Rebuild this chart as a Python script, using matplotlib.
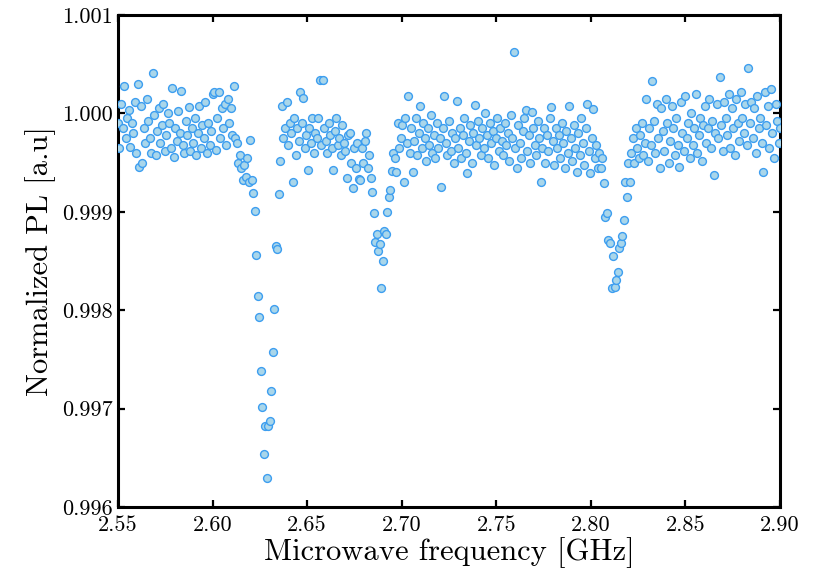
import numpy as np
import matplotlib
matplotlib.use("Agg")
import matplotlib.pyplot as plt

plt.rcParams["font.family"] = "cmr10"
plt.rcParams["mathtext.fontset"] = "cm"
plt.rcParams["axes.unicode_minus"] = False

# ODMR sweep: microwave frequency range (GHz)
freq_start = 2.55
freq_stop = 2.90

# Normalized photoluminescence along the sweep
pl = [
    # 2.550 - 2.611
    0.99990, 0.99965, 1.00010, 0.99985, 1.00028, 0.99975, 0.99995, 1.00003, 0.99966, 0.99990,
    0.99980, 1.00012, 0.99960, 1.00030, 0.99946, 1.00008, 0.99950, 0.99985, 0.99970, 1.00015,
    0.99992, 0.99975, 0.99960, 1.00041, 0.99998, 0.99958, 0.99982, 1.00005, 0.99970, 0.99988,
    1.00010, 0.99962, 0.99978, 1.00000, 0.99990, 0.99965, 1.00026, 0.99956, 0.99985, 0.99972,
    1.00002, 0.99980, 1.00023, 0.99968, 0.99960, 0.99992, 0.99978, 1.00006, 0.99962, 0.99985,
    0.99970, 0.99995, 0.99958, 0.99980, 1.00008, 0.99965, 0.99988, 0.99975, 1.00012, 0.99960,
    0.99990, 0.99968, 0.99982, 1.00020, 1.00022, 0.99963, 0.99995, 1.00022, 0.99975, 1.00005,
    0.99985, 1.00010, 0.99968, 1.00015, 0.99990, 1.00005, 0.99978, 1.00028,
    # shoulder of first resonance
    0.99975, 0.99970, 0.99950, 0.99958, 0.99945, 0.99932, 0.99948, 0.99935, 0.99955, 0.99930,
    0.99973, 0.99932,
    # first resonance
    0.99919, 0.99901, 0.99856, 0.99814, 0.99793, 0.99738, 0.99702, 0.99654, 0.99682, 0.99629,
    0.99682, 0.99687, 0.99718, 0.99758, 0.99801, 0.99865, 0.99862,
    # between first and second resonance
    0.99918, 0.99952, 1.00007, 0.99975, 0.99985, 1.00012, 0.99968, 0.99990, 0.99980, 0.99930,
    0.99995, 0.99958, 0.99985, 0.99972, 1.00022, 0.99990, 1.00016, 0.99965, 0.99978, 0.99942,
    0.99985, 0.99970, 0.99995, 0.99960, 0.99980, 0.99975, 0.99995, 1.00034, 0.99968, 1.00034,
    0.99985, 0.99972, 0.99960, 0.99990, 0.99978, 0.99965, 0.99942, 0.99982, 0.99995, 0.99968,
    0.99975, 0.99958, 0.99988, 0.99970, 0.99962, 0.99934, 0.99978, 0.99980, 0.99950, 0.99924,
    0.99965, 0.99945, 0.99970, 0.99933,
    # second resonance
    0.99932, 0.99965, 0.99950, 0.99972, 0.99980, 0.99945, 0.99958, 0.99934, 0.99920, 0.99899,
    0.99869, 0.99877, 0.99860, 0.99867, 0.99823, 0.99850, 0.99880, 0.99877, 0.99900, 0.99915,
    0.99922, 0.99941, 0.99960,
    # between second and third resonance
    0.99955, 0.99940, 0.99990, 0.99965, 0.99975, 0.99988, 0.99930, 0.99995, 0.99970, 1.00018,
    0.99960, 0.99985, 0.99940, 0.99972, 0.99995, 0.99958, 0.99980, 1.00008, 0.99965, 0.99990,
    0.99975, 0.99952, 0.99985, 0.99968, 0.99998, 0.99960, 0.99978, 0.99955, 0.99990, 0.99965,
    0.99975, 0.99925, 0.99985, 1.00018, 0.99970, 0.99958, 0.99992, 0.99962, 0.99980, 0.99950,
    0.99975, 1.00013, 0.99965, 0.99985, 0.99955, 0.99978, 0.99995, 0.99960, 0.99939, 0.99972,
    0.99988, 0.99950, 0.99980, 1.00009, 0.99968, 0.99992, 0.99975, 0.99958, 0.99985, 0.99965,
    1.00000, 0.99978, 0.99955, 0.99990, 0.99970, 0.99982, 0.99948, 0.99975, 0.99995, 0.99962,
    0.99985, 0.99972, 0.99958, 0.99990, 0.99968, 0.99980, 0.99952, 0.99998, 0.99975, 1.00062,
    0.99965, 0.99944, 0.99988, 0.99970, 0.99955, 0.99982, 0.99995, 1.00003, 0.99962, 0.99978,
    0.99950, 1.00001, 0.99985, 0.99968, 0.99958, 0.99992, 0.99975, 0.99930, 0.99965, 0.99985,
    0.99950, 0.99978, 0.99962, 0.99995, 1.00006, 0.99972, 0.99948, 0.99985, 0.99965, 0.99978,
    0.99955, 0.99990, 0.99970, 0.99945, 0.99982, 0.99960, 1.00008, 0.99975, 0.99952, 0.99988,
    0.99965, 0.99940, 0.99980, 0.99958, 0.99995, 0.99970, 0.99948, 0.99985, 1.00010, 0.99962,
    0.99939, 0.99975, 1.00004, 0.99955, 0.99968, 0.99945,
    # third resonance
    0.99960, 0.99945, 0.99955, 0.99929, 0.99895, 0.99899, 0.99871, 0.99868, 0.99823, 0.99855,
    0.99824, 0.99831, 0.99839, 0.99863, 0.99868, 0.99875, 0.99892, 0.99930, 0.99915, 0.99950,
    0.99930,
    # 2.825 - 2.900
    0.99960, 0.99975, 0.99950, 0.99985, 0.99965, 0.99955, 0.99978, 0.99990, 0.99958, 0.99970,
    1.00015, 0.99952, 0.99985, 0.99968, 1.00033, 0.99992, 0.99960, 1.00010, 0.99975, 0.99945,
    1.00005, 0.99982, 0.99962, 1.00015, 0.99990, 0.99950, 0.99972, 1.00008, 0.99985, 0.99958,
    0.99995, 0.99968, 0.99946, 1.00012, 0.99980, 0.99962, 1.00018, 0.99975, 0.99990, 0.99955,
    1.00000, 0.99968, 0.99985, 1.00020, 0.99960, 0.99978, 0.99995, 0.99952, 0.99988, 1.00008,
    0.99970, 0.99985, 1.00015, 0.99965, 0.99992, 0.99937, 0.99980, 1.00010, 0.99975, 1.00037,
    0.99988, 0.99962, 1.00012, 0.99995, 0.99978, 1.00020, 0.99965, 1.00005, 0.99985, 0.99958,
    1.00015, 0.99990, 0.99972, 1.00022, 0.99995, 0.99980, 1.00010, 0.99968, 1.00046, 0.99990,
    1.00012, 0.99975, 1.00005, 0.99960, 1.00018, 0.99985, 0.99995, 0.99970, 0.99940, 1.00022,
    0.99988, 1.00008, 0.99965, 1.00025, 0.99980, 0.99955, 1.00010, 0.99992, 0.99970, 0.99985,
]

freq = np.linspace(freq_start, freq_stop, len(pl))

x_ticks = [2.55, 2.60, 2.65, 2.70, 2.75, 2.80, 2.85, 2.90]
y_ticks = [0.996, 0.997, 0.998, 0.999, 1.000, 1.001]

fig = plt.figure(figsize=(8.16, 5.76), dpi=100)
ax = fig.add_axes([0.1446, 0.1198, 0.8113, 0.8542])

ax.scatter(freq, pl, s=32, facecolor="#a9d6ea", edgecolor="#3d9ef0",
           linewidth=1.0, zorder=3)

ax.set_xlim(freq_start, freq_stop)
ax.set_ylim(0.996, 1.001)
ax.set_xticks(x_ticks)
ax.set_xticklabels([f"{v:.2f}" for v in x_ticks])
ax.set_yticks(y_ticks)
ax.set_yticklabels([f"{v:.3f}" for v in y_ticks])

ax.tick_params(direction="in", length=5, width=1.6, top=True, right=True,
               labelsize=16)
ax.tick_params(axis="x", pad=6)
ax.tick_params(axis="y", pad=4)
for sp in ax.spines.values():
    sp.set_linewidth(2.2)

ax.set_xlabel("Microwave frequency [GHz]", fontsize=22, labelpad=2)
ax.set_ylabel("Normalized PL [a.u]", fontsize=22, labelpad=4)

fig.savefig("out.png", dpi=100)
